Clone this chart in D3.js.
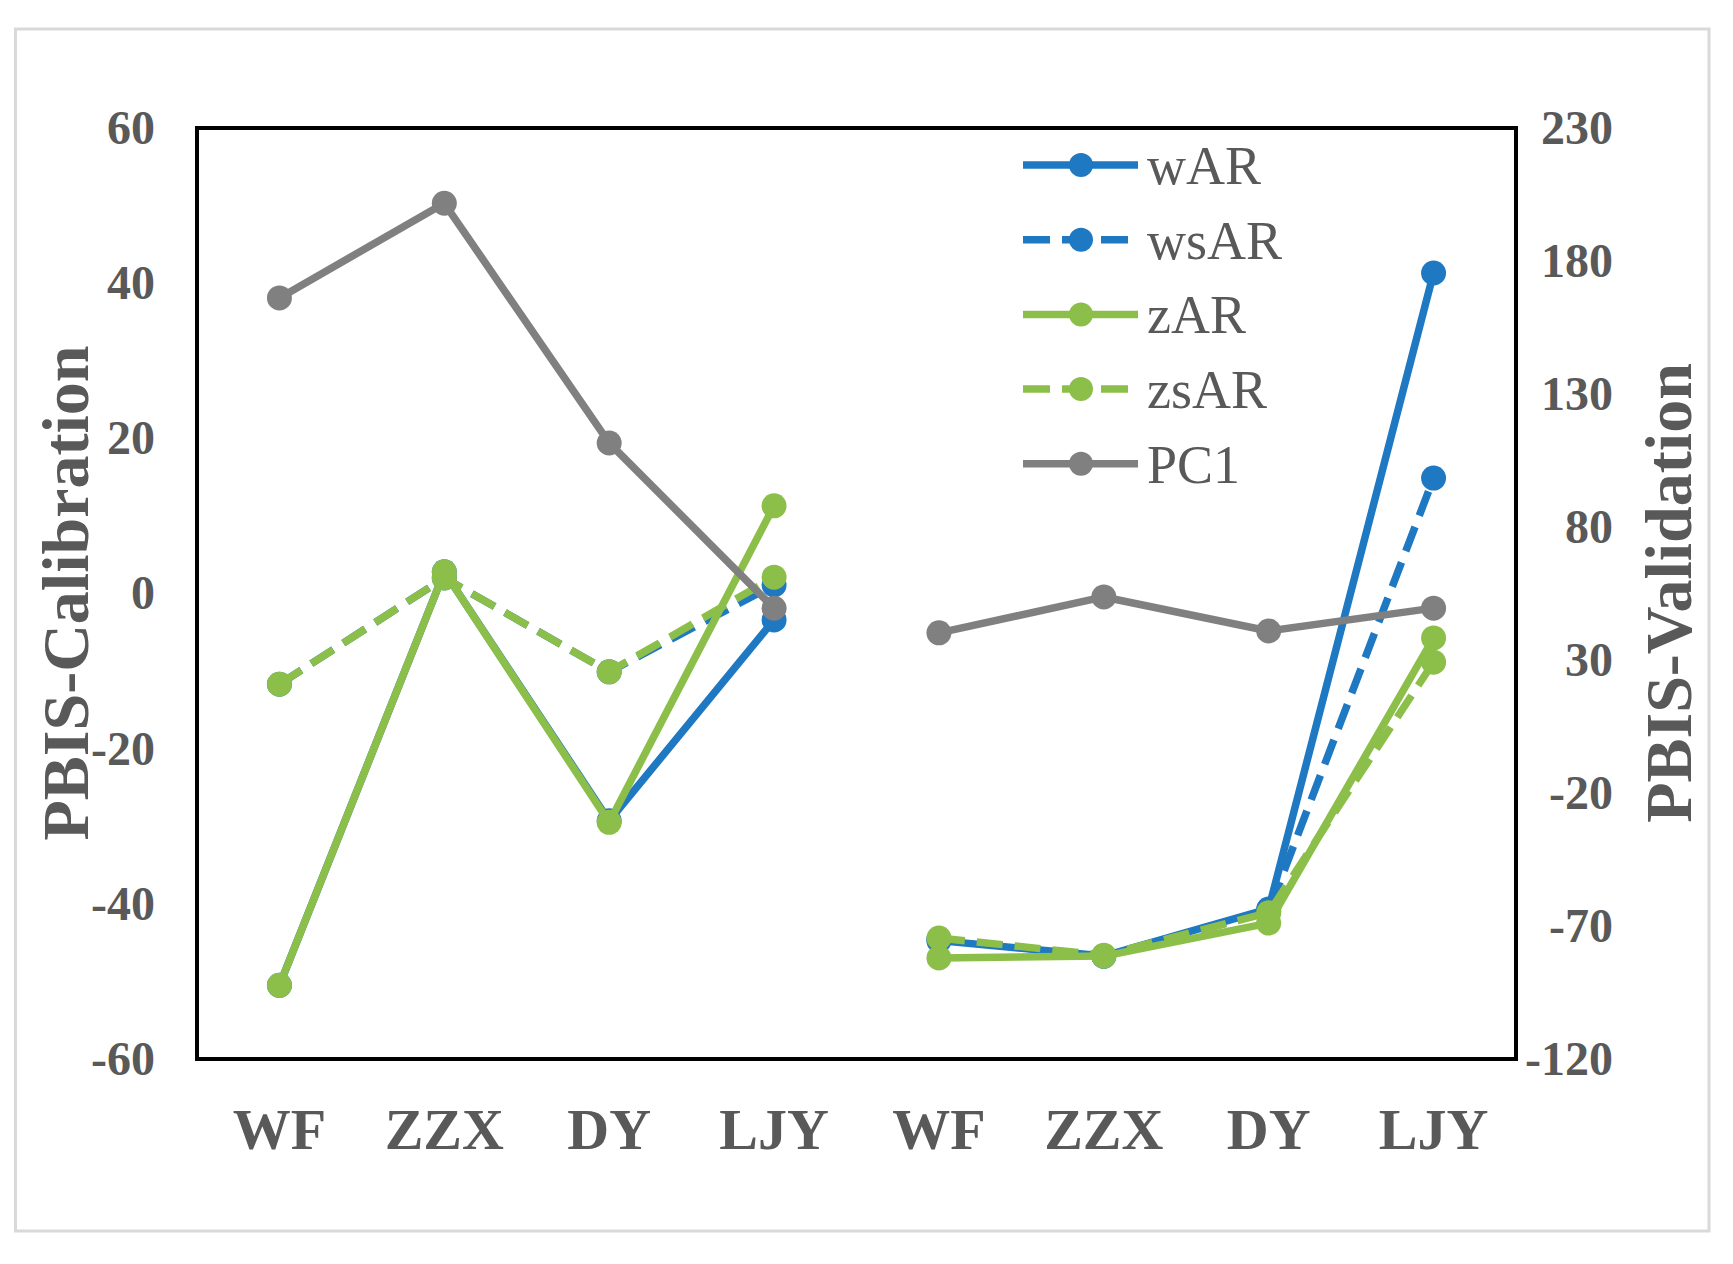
<!DOCTYPE html>
<html>
<head>
<meta charset="utf-8">
<script src="https://cdn.jsdelivr.net/npm/d3@7/dist/d3.min.js"></script>
<style>
  html, body { margin: 0; padding: 0; background: #fff; }
  svg { display: block; }
  text { font-family: "Liberation Serif", "Times New Roman", serif; }
</style>
</head>
<body>
<svg id="chart" width="1733" height="1264"></svg>
<script>
// ---- data ----
const categories = ["WF", "ZZX", "DY", "LJY", "WF", "ZZX", "DY", "LJY"];
const seriesNames = ["wAR", "wsAR", "zAR", "zsAR", "PC1"];
// Calibration values (left axis), stations WF, ZZX, DY, LJY
const calWAR  = [-50.5, 2.8, -29.3, -3.4];
const calWSAR = [-11.7, 2.0, -10.1, 1.1];
const calZAR  = [-50.5, 2.8, -29.5, 11.3];
const calZSAR = [-11.7, 2.0, -10.1, 2.1];
const calPC1  = [38.1, 50.3, 19.4, -1.9];
// Validation values (right axis), stations WF, ZZX, DY, LJY
const valWAR  = [-75.5, -81.3, -63.6, 175.5];
const valWSAR = [-75.0, -81.3, -64.5, 98.4];
const valZAR  = [-82.0, -81.3, -68.9, 38.3];
const valZSAR = [-74.5, -81.0, -65.0, 29.2];
const valPC1  = [40.2, 53.7, 40.9, 49.5];
const leftTicks  = [60, 40, 20, 0, -20, -40, -60];
const rightTicks = [230, 180, 130, 80, 30, -20, -70, -120];

const calData = [calWAR, calWSAR, calZAR, calZSAR, calPC1];
const valData = [valWAR, valWSAR, valZAR, valZSAR, valPC1];
const colors = ["#1e78c2", "#1e78c2", "#8cbf4a", "#8cbf4a", "#808080"];
const dashed = [false, true, false, true, false];

// ---- layout ----
const svg = d3.select("#chart");
const frame = { left: 197, right: 1516, top: 128, bottom: 1059 };
const textColor = "#595959";
const serif = '"Liberation Serif", "Times New Roman", serif';

// outer light border
svg.append("rect")
  .attr("x", 15.5).attr("y", 29)
  .attr("width", 1709 - 15.5).attr("height", 1231 - 29)
  .attr("fill", "none").attr("stroke", "#d9d9d9").attr("stroke-width", 3);

const x = d3.scaleBand().domain(d3.range(categories.length))
  .range([frame.left, frame.right]).padding(0);
const xc = i => x(i) + x.bandwidth() / 2;
const yL = d3.scaleLinear().domain([-60, 60]).range([frame.bottom, frame.top]);
const yR = d3.scaleLinear().domain([-120, 230]).range([frame.bottom, frame.top]);
const fmt = d => String(d);

// left axis labels
const gL = svg.append("g").attr("transform", `translate(155,0)`)
  .call(d3.axisLeft(yL).tickValues(leftTicks).tickFormat(fmt).tickSize(0).tickPadding(0));
gL.select(".domain").remove();
gL.selectAll("text").attr("fill", textColor).style("font-size", "48px")
  .style("font-weight", "bold").style("font-family", serif);

// right axis labels
const gR = svg.append("g").attr("transform", `translate(1613,0)`)
  .call(d3.axisLeft(yR).tickValues(rightTicks).tickFormat(fmt).tickSize(0).tickPadding(0));
gR.select(".domain").remove();
gR.selectAll("text").attr("fill", textColor).style("font-size", "48px")
  .style("font-weight", "bold").style("font-family", serif);

// category axis
const gB = svg.append("g").attr("transform", `translate(0,${frame.bottom})`)
  .call(d3.axisBottom(x).tickFormat(i => categories[i]).tickSize(0));
gB.select(".domain").remove();
gB.selectAll("text").attr("fill", textColor).attr("dy", null).attr("y", 90)
  .style("font-size", "58px").style("font-weight", "bold").style("font-family", serif);

// axis titles
svg.append("text").attr("transform", "translate(88,593) rotate(-90)")
  .attr("text-anchor", "middle").attr("fill", textColor)
  .style("font-size", "66px").style("font-weight", "bold").text("PBIS-Calibration");
svg.append("text").attr("transform", "translate(1691,593) rotate(-90)")
  .attr("text-anchor", "middle").attr("fill", textColor)
  .style("font-size", "66px").style("font-weight", "bold").text("PBIS-Validation");

// series
const lineL = d3.line().x(d => xc(d.i)).y(d => yL(d.v));
const lineR = d3.line().x(d => xc(d.i)).y(d => yR(d.v));
const plot = svg.append("g");
seriesNames.forEach((name, s) => {
  const cal = calData[s].map((v, k) => ({ i: k, v }));
  const val = valData[s].map((v, k) => ({ i: k + 4, v }));
  const g = plot.append("g");
  [[cal, lineL], [val, lineR]].forEach(([pts, ln]) => {
    g.append("path").attr("d", ln(pts))
      .attr("fill", "none").attr("stroke", colors[s]).attr("stroke-width", 7.5)
      .attr("stroke-linejoin", "round")
      .attr("stroke-dasharray", dashed[s] ? "26,12" : null);
  });
  g.selectAll("circle.c").data(cal).enter().append("circle")
    .attr("cx", d => xc(d.i)).attr("cy", d => yL(d.v)).attr("r", 12.5).attr("fill", colors[s]);
  g.selectAll("circle.v").data(val).enter().append("circle")
    .attr("cx", d => xc(d.i)).attr("cy", d => yR(d.v)).attr("r", 12.5).attr("fill", colors[s]);
});

// frame
svg.append("rect")
  .attr("x", frame.left).attr("y", frame.top)
  .attr("width", frame.right - frame.left).attr("height", frame.bottom - frame.top)
  .attr("fill", "none").attr("stroke", "#000").attr("stroke-width", 4);

// legend
const leg = svg.append("g");
seriesNames.forEach((name, s) => {
  const yy = 165 + s * 74.7;
  leg.append("line").attr("x1", 1023).attr("x2", 1138).attr("y1", yy).attr("y2", yy)
    .attr("stroke", colors[s]).attr("stroke-width", 7.5)
    .attr("stroke-dasharray", dashed[s] ? "27,12" : null);
  leg.append("circle").attr("cx", 1081).attr("cy", yy).attr("r", 12).attr("fill", colors[s]);
  leg.append("text").attr("x", 1147).attr("y", yy).attr("dy", "0.35em")
    .attr("fill", textColor).style("font-size", "54px").text(name);
});
</script>
</body>
</html>
